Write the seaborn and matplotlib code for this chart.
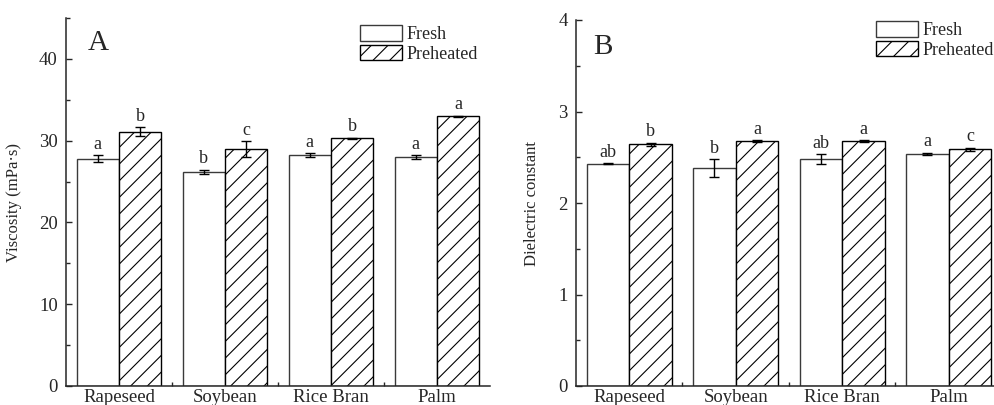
import numpy as np
import pandas as pd
import matplotlib
matplotlib.use("Agg")
import matplotlib.pyplot as plt
import seaborn as sns

# ---------------- data ----------------
oils = ["Rapeseed", "Soybean", "Rice Bran", "Palm"]
treatments = ["Fresh", "Preheated"]

visc_fresh = [27.8, 26.2, 28.2, 28.0]
visc_fresh_err = [0.4, 0.25, 0.25, 0.25]
visc_pre = [31.1, 29.0, 30.3, 33.0]
visc_pre_err = [0.55, 0.95, 0.08, 0.05]
visc_fresh_letters = ["a", "b", "a", "a"]
visc_pre_letters = ["b", "c", "b", "a"]

diel_fresh = [2.43, 2.38, 2.48, 2.54]
diel_fresh_err = [0.005, 0.10, 0.055, 0.01]
diel_pre = [2.64, 2.675, 2.675, 2.585]
diel_pre_err = [0.02, 0.01, 0.01, 0.02]
diel_fresh_letters = ["ab", "b", "ab", "a"]
diel_pre_letters = ["b", "a", "a", "c"]

# ---------------- style ----------------
sns.set_style("ticks")
plt.rcParams["font.family"] = ["Liberation Serif", "DejaVu Serif"]
plt.rcParams["hatch.linewidth"] = 0.8
plt.rcParams["axes.linewidth"] = 1.1

fig = plt.figure(figsize=(9.95, 4.05), dpi=100)
W, H = 995.0, 405.0


def panel(rect, fresh, fresh_err, pre, pre_err, fl, pl, ylim, major, minor,
          ylabel, tag, tag_xy, leg_xy, offset):
    ax = fig.add_axes(rect)
    df = pd.DataFrame({
        "oil": oils * 2,
        "treatment": ["Fresh"] * 4 + ["Preheated"] * 4,
        "value": list(fresh) + list(pre),
    })
    sns.barplot(data=df, x="oil", y="value", hue="treatment",
                order=oils, hue_order=treatments,
                palette={"Fresh": "white", "Preheated": "white"},
                saturation=1, errorbar=None, legend=False,
                edgecolor="black", linewidth=1.0, ax=ax)
    bar_conts = list(ax.containers[:2])
    for b in bar_conts[0]:
        b.set_edgecolor("#3a3a3a")
    for b in bar_conts[1]:
        b.set_hatch("//")
        b.set_edgecolor("black")

    errs = [fresh_err, pre_err]
    letters = [fl, pl]
    for ci, cont in enumerate(bar_conts):
        xs = [b.get_x() + b.get_width() / 2 for b in cont]
        ys = [b.get_height() for b in cont]
        ax.errorbar(xs, ys, yerr=errs[ci], fmt="none", ecolor="black",
                    elinewidth=1.0, capsize=3.5, capthick=1.0, zorder=5)
        for x, y, e, t in zip(xs, ys, errs[ci], letters[ci]):
            ax.text(x, y + e + offset, t, ha="center", va="bottom",
                    fontsize=13)

    ax.set_xlim(-0.5, 3.5)
    ax.set_ylim(*ylim)
    ax.set_yticks(major)
    ax.set_yticks(minor, minor=True)
    ax.set_xticks(range(4))
    ax.set_xticklabels(oils, fontsize=13.5)
    ax.set_xticks([0.5, 1.5, 2.5], minor=True)
    ax.tick_params(axis="x", which="major", length=0, pad=2)
    ax.tick_params(axis="x", which="minor", direction="in", length=3, width=1)
    ax.tick_params(axis="y", which="major", direction="in", length=4, width=1,
                   labelsize=13.5, pad=6)
    ax.tick_params(axis="y", which="minor", direction="in", length=3, width=1)
    ax.set_xlabel("")
    ax.set_ylabel(ylabel, fontsize=12, labelpad=4)
    sns.despine(ax=ax)
    ax.text(tag_xy[0], tag_xy[1], tag, transform=ax.transAxes, fontsize=21,
            ha="center", va="center")
    ax.legend(bar_conts, treatments, loc="upper left",
              bbox_to_anchor=leg_xy, frameon=False, fontsize=13,
              handlelength=2.35, handleheight=0.95, labelspacing=0.1,
              handletextpad=0.25, borderpad=0, borderaxespad=0)
    return ax


# panel A: axes x 66..490, y 18..386 (pixels)
axA = panel([66 / W, (H - 386) / H, (490 - 66) / W, (386 - 18) / H],
            visc_fresh, visc_fresh_err, visc_pre, visc_pre_err,
            visc_fresh_letters, visc_pre_letters,
            (0, 45), [0, 10, 20, 30, 40], [5, 15, 25, 35, 45],
            "Viscosity (mPa·s)", "A",
            ((98 - 66) / 424, (386 - 43) / 368),
            ((360 - 66) / 424, (386 - 25) / 368), 0.3)
axA.yaxis.set_label_coords(-(66 - 22) / 424, 0.5)

# panel B: axes x 576..1002, y 20..386
axB = panel([576 / W, (H - 386) / H, (1002 - 576) / W, (386 - 20) / H],
            diel_fresh, diel_fresh_err, diel_pre, diel_pre_err,
            diel_fresh_letters, diel_pre_letters,
            (0, 4), [0, 1, 2, 3, 4], [0.5, 1.5, 2.5, 3.5],
            "Dielectric constant", "B",
            ((603 - 576) / 426, (386 - 47) / 366),
            ((876 - 576) / 426, (386 - 21) / 366), 0.025)
axB.yaxis.set_label_coords(-(576 - 540) / 426, 0.5)

fig.savefig("out.png", dpi=100)
